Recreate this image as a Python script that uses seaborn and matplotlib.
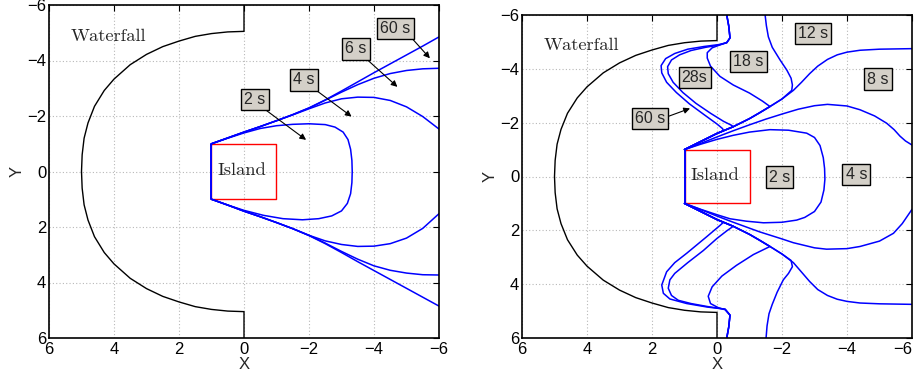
import numpy as np
import matplotlib
matplotlib.use("Agg")
import matplotlib.pyplot as plt
import seaborn as sns

# ---------------- data ----------------
ticks = [6, 4, 2, 0, -2, -4, -6]

# waterfall edge (same in both panels)
wall_x = [0, 0, 0.5, 1, 1.5, 2, 2.5, 3, 3.5, 4, 4.3, 4.6, 4.8, 4.92, 4.98, 5.0,
          4.98, 4.92, 4.8, 4.6, 4.3, 4, 3.5, 3, 2.5, 2, 1.5, 1, 0.5, 0, 0]
wall_y = [-6, -5.05, -5.03, -4.97, -4.87, -4.7, -4.5, -4.22, -3.85, -3.33, -2.92, -2.35, -1.75, -1.2, -0.6, 0,
          0.6, 1.2, 1.75, 2.35, 2.92, 3.33, 3.85, 4.22, 4.5, 4.7, 4.87, 4.97, 5.03, 5.05, 6]

island_x = [1, -1, -1, 1, 1]
island_y = [-1, -1, 1, 1, -1]
face_x = [1, 1]
face_y = [-1, 1]

# left panel fronts
left_2s_x = [1, 0.5, 0, -0.5, -1, -1.5, -2, -2.5, -2.8, -3.05, -3.2, -3.28, -3.32, -3.33,
             -3.32, -3.28, -3.18, -3.0, -2.7, -2.3, -1.8, -1.2, -0.6, 0, 0.5, 1]
left_2s_y = [-1, -1.2, -1.39, -1.55, -1.65, -1.7, -1.72, -1.69, -1.6, -1.42, -1.15, -0.8, -0.4, 0,
             0.4, 0.8, 1.15, 1.42, 1.6, 1.7, 1.74, 1.7, 1.58, 1.4, 1.21, 1]
left_x = [1, 0.5, 0, -0.5, -1, -1.5, -2, -2.5, -3, -3.5, -4, -4.5, -5, -5.5, -6]
left_4s_up = [-1, -1.21, -1.42, -1.62, -1.83, -2.04, -2.26, -2.47, -2.62, -2.68, -2.67, -2.56, -2.33, -1.98, -1.53]
left_4s_lo = [1, 1.21, 1.43, 1.63, 1.84, 2.06, 2.3, 2.5, 2.63, 2.7, 2.69, 2.6, 2.4, 2.05, 1.52]
left_6s_up = [-1, -1.21, -1.42, -1.62, -1.83, -2.05, -2.29, -2.57, -2.86, -3.13, -3.36, -3.53, -3.64, -3.7, -3.72]
left_6s_lo = [1, 1.21, 1.43, 1.63, 1.84, 2.06, 2.3, 2.58, 2.88, 3.16, 3.4, 3.56, 3.66, 3.72, 3.73]
left_60s_up = [-1, -1.21, -1.42, -1.62, -1.83, -2.05, -2.29, -2.58, -2.9, -3.23, -3.56, -3.88, -4.2, -4.52, -4.85]
left_60s_lo = [1, 1.21, 1.43, 1.63, 1.84, 2.06, 2.31, 2.6, 2.92, 3.25, 3.57, 3.89, 4.21, 4.53, 4.85]

# right panel fronts
r2_x = [1, 0.5, 0, -0.5, -1, -1.63, -2.2, -2.76, -3.0, -3.17, -3.27, -3.31, -3.32, -3.29, -3.2, -3.0,
        -2.7, -2.45, -2.0, -1.43, -0.9, -0.4, 0, 0.5, 1]
r2_y = [-1, -1.2, -1.38, -1.53, -1.65, -1.74, -1.72, -1.61, -1.45, -1.15, -0.7, -0.3, 0.1, 0.5, 0.95, 1.3,
        1.52, 1.62, 1.7, 1.72, 1.66, 1.57, 1.42, 1.22, 1]
r4_up_x = [1, 0.5, 0, -0.5, -1, -1.5, -2, -2.5, -3, -3.4, -4, -4.4, -4.85, -5.22, -5.45, -5.63, -5.8, -6]
r4_up_y = [-1, -1.23, -1.47, -1.7, -1.92, -2.13, -2.32, -2.5, -2.63, -2.68, -2.62, -2.48, -2.25, -1.98, -1.74, -1.5, -1.32, -1.17]
r4_lo_x = [1, 0.5, 0, -0.5, -1, -1.32, -2, -2.35, -3, -3.37, -4, -4.4, -5.0, -5.43, -5.7, -6]
r4_lo_y = [1, 1.23, 1.47, 1.7, 1.92, 2.06, 2.32, 2.46, 2.65, 2.7, 2.68, 2.6, 2.4, 2.11, 1.75, 1.22]
r8_x = [1, 0.5, 0, -0.5, -1, -1.3, -1.63, -2.0, -2.35, -2.6, -2.85, -3.1, -3.4, -3.7, -4.0, -4.4, -5.0, -5.5, -6]
r8_up_y = [-1, -1.3, -1.6, -1.85, -2.15, -2.36, -2.6, -2.88, -3.2, -3.5, -3.82, -4.1, -4.35, -4.52, -4.62, -4.69, -4.73, -4.74, -4.75]
r8_lo_y = [1, 1.3, 1.6, 1.85, 2.15, 2.36, 2.6, 2.88, 3.2, 3.55, 3.9, 4.2, 4.42, 4.56, 4.64, 4.7, 4.73, 4.74, 4.75]
r12_up_x = [-1.48, -1.52, -1.58, -1.7, -1.94, -2.15, -2.28, -2.32, -2.3, -2.0, -1.63, -1.3, -1.0, -0.5, 0, 0.5, 1]
r12_up_y = [-6, -5.6, -5.19, -4.8, -4.33, -3.95, -3.65, -3.4, -3.2, -2.88, -2.6, -2.36, -2.15, -1.85, -1.6, -1.3, -1]
r12_lo_x = [-1.51, -1.54, -1.6, -1.7, -1.85, -2.04, -2.2, -2.32, -2.28, -2.0, -1.63, -1.3, -1.0, -0.5, 0, 0.5, 1]
r12_lo_y = [6, 5.55, 5.1, 4.75, 4.3, 3.84, 3.6, 3.35, 3.12, 2.88, 2.6, 2.36, 2.15, 1.85, 1.6, 1.3, 1]
r18_up_x = [-0.3, -0.36, -0.4, -0.3, -0.09, 0.15, 0.3, 0.3, 0.2, -0.09, -0.5, -1.0, -1.4, -1.63, -1.3, -1.0, -0.5, 0, 0.5, 1]
r18_up_y = [-6, -5.6, -5.15, -4.98, -4.89, -4.78, -4.6, -4.4, -4.1, -3.72, -3.4, -3.1, -2.8, -2.6, -2.36, -2.15, -1.85, -1.6, -1.3, -1]
r18_lo_x = [-0.3, -0.36, -0.4, -0.25, -0.05, 0.2, 0.27, 0.15, -0.15, -0.6, -1.12, -1.63, -1.3, -1.0, -0.5, 0, 0.5, 1]
r18_lo_y = [6, 5.6, 5.15, 4.95, 4.88, 4.72, 4.45, 4.1, 3.7, 3.3, 2.9, 2.6, 2.36, 2.15, 1.85, 1.6, 1.3, 1]
r28_up_x = [-0.3, -0.36, -0.4, -0.3, -0.05, 0.35, 0.8, 1.15, 1.4, 1.52, 1.5, 1.35, 1.05, 0.65, 0.2, -0.2, -0.45, -0.5, -0.2, 0, 0.5, 1]
r28_up_y = [-6, -5.6, -5.15, -4.97, -4.88, -4.8, -4.68, -4.52, -4.33, -4.08, -3.82, -3.5, -3.12, -2.72, -2.35, -2.05, -1.9, -1.85, -1.7, -1.6, -1.3, -1]
r28_lo_x = [-0.3, -0.36, -0.4, -0.25, 0.3, 0.8, 1.19, 1.4, 1.5, 1.45, 1.3, 0.9, 0.42, 0.0, -0.3, -0.5, -0.2, 0, 0.5, 1]
r28_lo_y = [6, 5.6, 5.15, 4.93, 4.83, 4.72, 4.6, 4.42, 4.15, 3.84, 3.6, 3.2, 2.75, 2.3, 2.02, 1.85, 1.7, 1.6, 1.3, 1]
r60_up_x = [-0.3, -0.36, -0.4, -0.3, -0.05, 0.4, 0.9, 1.3, 1.58, 1.72, 1.7, 1.55, 1.25, 0.85, 0.4, 0.0, -0.17, -0.2, 0, 0.5, 1]
r60_up_y = [-6, -5.6, -5.15, -4.97, -4.9, -4.83, -4.73, -4.57, -4.38, -4.12, -3.85, -3.5, -3.12, -2.7, -2.3, -1.95, -1.78, -1.7, -1.6, -1.3, -1]
r60_lo_x = [-0.3, -0.36, -0.4, -0.25, 0.3, 0.93, 1.45, 1.65, 1.7, 1.55, 1.3, 0.93, 0.32, -0.09, -0.2, 0, 0.5, 1]
r60_lo_y = [6, 5.6, 5.15, 4.93, 4.85, 4.72, 4.55, 4.34, 4.03, 3.54, 3.2, 2.85, 2.24, 1.82, 1.7, 1.6, 1.3, 1]

# ---------------- style ----------------
sns.set_theme(style="white")
plt.rcParams["font.family"] = ["Liberation Sans", "DejaVu Sans"]
plt.rcParams["axes.unicode_minus"] = True
serif = ["cmr10", "Liberation Serif", "DejaVu Serif"]
box = dict(boxstyle="square,pad=0.2", fc="#d4d0c8", ec="black", lw=1.0)
arrow = dict(arrowstyle="-|>", color="black", lw=0.8, mutation_scale=9, shrinkA=0, shrinkB=0)
BLUE = "#0000ff"

fig = plt.figure(figsize=(9.2, 3.76), dpi=100)
ax1 = fig.add_axes([49 / 920, 38 / 376, 390 / 920, 333 / 376])
ax2 = fig.add_axes([522 / 920, 38 / 376, 390 / 920, 323 / 376])


def line(ax, xs, ys, color=BLUE, lw=1.1):
    sns.lineplot(x=xs, y=ys, sort=False, estimator=None, color=color, lw=lw, ax=ax)


def frame(ax):
    ax.set_xlim(6, -6)
    ax.set_ylim(6, -6)
    ax.set_xticks(ticks)
    ax.set_yticks(ticks)
    ax.grid(True, color="0.72", linestyle=(0, (1, 2)), lw=0.8)
    ax.tick_params(direction="in", length=4, width=0.8, top=True, right=True,
                   labelsize=12, colors="black")
    ax.tick_params(axis="x", pad=3)
    ax.tick_params(axis="y", pad=2)
    for s in ax.spines.values():
        s.set_color("black")
        s.set_linewidth(1.2)
    ax.set_xlabel("X", fontsize=12, labelpad=0)
    ax.set_ylabel("Y", fontsize=12, labelpad=2)
    line(ax, wall_x, wall_y, color="black", lw=1.0)
    line(ax, island_x, island_y, color="red", lw=1.0)
    line(ax, face_x, face_y, lw=1.4)
    ax.text(4.18, -4.87, "Waterfall", family=serif, fontsize=13.3, ha="center", va="center")
    ax.text(0.06, -0.03, "Island", family=serif, fontsize=13.3, ha="center", va="center")


def label(ax, txt, x, y, tail=None, tip=None):
    ax.text(x, y, txt, fontsize=11.5, ha="center", va="center", bbox=box, zorder=5)
    if tip is not None:
        ax.annotate("", xy=tip, xytext=tail, arrowprops=arrow, zorder=4)


# ---------------- left panel ----------------
frame(ax1)
line(ax1, left_2s_x, left_2s_y)
for up, lo in [(left_4s_up, left_4s_lo), (left_6s_up, left_6s_lo), (left_60s_up, left_60s_lo)]:
    line(ax1, left_x, up)
    line(ax1, left_x, lo)
label(ax1, "60 s", -4.66, -5.16, (-5.19, -4.77), (-5.72, -4.08))
label(ax1, "6 s", -3.44, -4.42, (-3.81, -4.01), (-4.72, -3.05))
label(ax1, "4 s", -1.85, -3.30, (-2.24, -2.91), (-3.31, -1.98))
label(ax1, "2 s", -0.33, -2.59, (-0.70, -2.19), (-1.91, -1.14))

# ---------------- right panel ----------------
frame(ax2)
line(ax2, r2_x, r2_y)
line(ax2, r4_up_x, r4_up_y)
line(ax2, r4_lo_x, r4_lo_y)
line(ax2, r8_x, r8_up_y)
line(ax2, r8_x, r8_lo_y)
line(ax2, r12_up_x, r12_up_y)
line(ax2, r12_lo_x, r12_lo_y)
line(ax2, r18_up_x, r18_up_y)
line(ax2, r18_lo_x, r18_lo_y)
line(ax2, r28_up_x, r28_up_y)
line(ax2, r28_lo_x, r28_lo_y)
line(ax2, r60_up_x, r60_up_y)
line(ax2, r60_lo_x, r60_lo_y)
label(ax2, "12 s", -2.96, -5.32)
label(ax2, "18 s", -0.97, -4.27)
label(ax2, "28s", 0.69, -3.68)
label(ax2, "8 s", -4.95, -3.62)
label(ax2, "2 s", -1.92, 0.02)
label(ax2, "4 s", -4.29, -0.08)
label(ax2, "60 s", 2.06, -2.16, (1.53, -2.22), (0.83, -2.53))

# last x tick label of the right panel sits flush with the figure edge
ax2.get_xticklabels()[-1].set_horizontalalignment("right")

fig.savefig("out.png", dpi=100)
